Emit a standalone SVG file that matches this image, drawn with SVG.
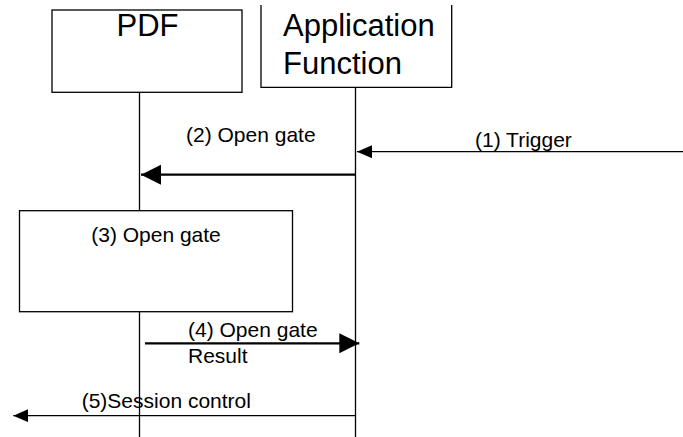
<svg xmlns="http://www.w3.org/2000/svg" width="683" height="437" viewBox="0 0 683 437">
  <style>
    .box { fill: #ffffff; stroke: #000000; stroke-width: 1.3; }
    .life { stroke: #000000; stroke-width: 1.3; fill: none; }
    .big { font-family: "Liberation Sans", Arial, sans-serif; font-size: 31px; fill: #000000; }
    .lbl { font-family: "Liberation Sans", Arial, sans-serif; font-size: 21px; fill: #000000; }
    .thick { stroke: #000000; stroke-width: 2.2; fill: none; }
    .thin { stroke: #000000; stroke-width: 1.2; fill: none; }
  </style>
  <defs>
    <marker id="bigHead" markerUnits="userSpaceOnUse" markerWidth="21" markerHeight="21" refX="20" refY="10" orient="auto">
      <path d="M0,0 L20,10 L0,20 Z" fill="#000000"/>
    </marker>
    <marker id="smallHead" markerUnits="userSpaceOnUse" markerWidth="16" markerHeight="14" refX="15" refY="6.5" orient="auto">
      <path d="M0,0 L15,6.5 L0,13 Z" fill="#000000"/>
    </marker>
  </defs>
  <rect width="683" height="437" fill="#ffffff"/>

  <g id="pdf">
    <rect class="box" x="52" y="10" width="190" height="82.3"/>
    <text class="big" x="147.5" y="36" text-anchor="middle">PDF</text>
  </g>

  <g id="application-function">
    <path class="box" d="M261,5 V87.3 H451.7 V5"/>
    <text class="big" x="283" y="36">Application</text>
    <text class="big" x="283" y="74">Function</text>
  </g>

  <g id="lifelines">
    <line class="life" x1="139.5" y1="92.3" x2="139.5" y2="210.7"/>
    <line class="life" x1="139.5" y1="311.7" x2="139.5" y2="437"/>
    <line class="life" x1="355.5" y1="87.3" x2="355.5" y2="437"/>
  </g>

  <g id="open-gate-process">
    <rect class="box" x="19.5" y="210.7" width="273" height="101"/>
    <text class="lbl" x="156" y="242.3" text-anchor="middle">(3) Open gate</text>
  </g>

  <g id="connectors">
    <line class="thin" x1="683" y1="151.7" x2="357" y2="151.7" marker-end="url(#smallHead)"/>
    <line class="thick" x1="355.5" y1="174.7" x2="141" y2="174.7" marker-end="url(#bigHead)"/>
    <line class="thick" x1="145" y1="343.3" x2="359.3" y2="343.3" marker-end="url(#bigHead)"/>
    <line class="thin" x1="355.5" y1="415.7" x2="13.3" y2="415.7" marker-end="url(#smallHead)"/>
  </g>

  <g id="labels">
    <text class="lbl" x="475" y="146.7">(1) Trigger</text>
    <text class="lbl" x="186" y="142.3">(2) Open gate</text>
    <text class="lbl" x="188" y="337.3">(4) Open gate</text>
    <text class="lbl" x="188" y="363.3">Result</text>
    <text class="lbl" x="81.7" y="408.3">(5)Session control</text>
  </g>
</svg>
